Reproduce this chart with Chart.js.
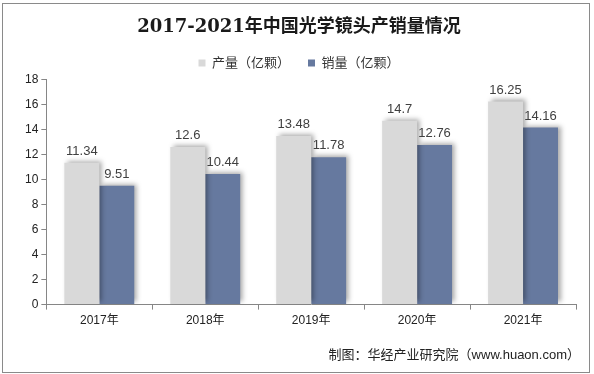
<!DOCTYPE html>
<html><head><meta charset="utf-8">
<script src="https://cdn.jsdelivr.net/npm/chart.js@4"></script>
<style>
html,body{margin:0;padding:0;background:#fff;}
#wrap{position:relative;width:594px;height:374px;}
#frame{position:absolute;left:2px;top:3px;width:586px;height:368px;border:1px solid #8a8a8a;box-sizing:content-box;pointer-events:none;}
canvas{position:absolute;left:0;top:0;}
</style></head>
<body>
<div id="wrap"><canvas id="c" width="594" height="374"></canvas><div id="frame"></div></div>
<script>
const titleText = '2017-2021年中国光学镜头产销量情况';
const categories = ['2017年','2018年','2019年','2020年','2021年'];
const productionLabel = '产量（亿颗）';
const salesLabel = '销量（亿颗）';
const production = [11.34, 12.6, 13.48, 14.7, 16.25];
const sales = [9.51, 10.44, 11.78, 12.76, 14.16];
const yTicks = [0,2,4,6,8,10,12,14,16,18];
const sourceText = '制图：华经产业研究院（www.huaon.com）';

const FONT = "'Liberation Sans', Arial, 'Noto Sans CJK SC', sans-serif";

const shadowPlugin = {
  id:'shadow',
  beforeDatasetsDraw(chart){
    const ctx = chart.ctx; ctx.save();
    ctx.shadowColor='rgba(0,0,0,0.35)'; ctx.shadowBlur=5; ctx.shadowOffsetX=3; ctx.shadowOffsetY=-2;
  },
  afterDatasetsDraw(chart){ chart.ctx.restore(); }
};

const labelPlugin = {
  id:'labels',
  afterDatasetsDraw(chart){
    const ctx = chart.ctx; ctx.save();
    ctx.shadowColor='transparent';
    ctx.font = '13px ' + FONT; ctx.fillStyle='#404040';
    ctx.textAlign='center'; ctx.textBaseline='bottom';
    chart.data.datasets.forEach((ds,i)=>{
      chart.getDatasetMeta(i).data.forEach((el,j)=>{
        ctx.fillText(String(ds.data[j]), el.x, el.y-5);
      });
    });
    ctx.restore();
  },
  afterDraw(chart){
    const ctx = chart.ctx; ctx.save();
    ctx.font = '13px ' + FONT; ctx.fillStyle='#222';
    ctx.textAlign='right'; ctx.textBaseline='middle';
    ctx.fillText(sourceText, 580, 355);
    ctx.restore();
  }
};

new Chart(document.getElementById('c'), {
  type:'bar',
  data:{
    labels:categories,
    datasets:[
      {label:productionLabel, data:production, backgroundColor:'#d9d9d9', barPercentage:1, categoryPercentage:0.66},
      {label:salesLabel, data:sales, backgroundColor:'#66799f', barPercentage:1, categoryPercentage:0.66}
    ]
  },
  options:{
    responsive:false, animation:false, devicePixelRatio:1,
    layout:{padding:{left:22,right:18,top:6,bottom:42}},
    plugins:{
      title:{display:true,text:titleText,color:'#1a1a1a',font:{family:"'DejaVu Serif','Noto Sans CJK SC',serif",size:18,weight:'bold'},padding:{top:11,bottom:0}},
      legend:{display:true,labels:{boxWidth:7,boxHeight:7,color:'#333',font:{family:FONT,size:13},padding:18}},
      tooltip:{enabled:false}
    },
    scales:{
      x:{
        grid:{display:true,drawOnChartArea:false,offset:true,tickLength:5,color:'#868686'},
        border:{color:'#868686'},
        ticks:{color:'#222',font:{family:FONT,size:12},padding:4}
      },
      y:{
        min:0,max:18,
        afterBuildTicks(scale){ scale.ticks = yTicks.map(v=>({value:v})); },
        grid:{display:true,drawOnChartArea:false,tickLength:5,color:'#868686'},
        border:{color:'#868686'},
        ticks:{color:'#222',font:{family:FONT,size:12},padding:3}
      }
    }
  },
  plugins:[shadowPlugin,labelPlugin]
});
</script>
</body></html>
